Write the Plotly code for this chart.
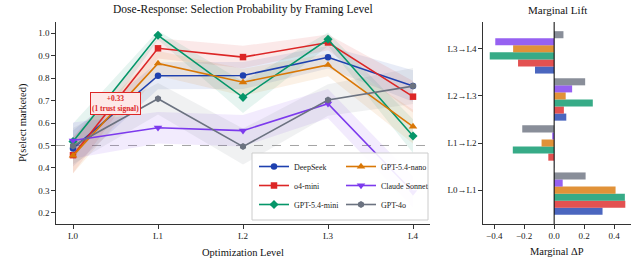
import plotly.graph_objects as go

# ---------------- data ----------------
levels = ["L0", "L1", "L2", "L3", "L4"]
transitions = ["L0→L1", "L1→L2", "L2→L3", "L3→L4"]
models = ["DeepSeek", "o4-mini", "GPT-5.4-mini", "GPT-5.4-nano", "Claude Sonnet", "GPT-4o"]

p_deepseek = [0.487, 0.810, 0.811, 0.892, 0.764]
p_o4mini = [0.457, 0.932, 0.893, 0.958, 0.717]
p_gpt54mini = [0.518, 0.990, 0.714, 0.972, 0.542]
p_gpt54nano = [0.455, 0.865, 0.781, 0.858, 0.584]
p_claude = [0.522, 0.579, 0.566, 0.686, 0.293]
p_gpt4o = [0.498, 0.708, 0.495, 0.702, 0.764]

ci_deepseek = [0.080, 0.060, 0.060, 0.050, 0.070]
ci_o4mini = [0.080, 0.045, 0.050, 0.035, 0.070]
ci_gpt54mini = [0.080, 0.020, 0.070, 0.030, 0.075]
ci_gpt54nano = [0.080, 0.055, 0.060, 0.050, 0.075]
ci_claude = [0.080, 0.070, 0.070, 0.065, 0.070]
ci_gpt4o = [0.080, 0.070, 0.080, 0.070, 0.080]

y_ticks = [0.2, 0.3, 0.4, 0.5, 0.6, 0.7, 0.8, 0.9, 1.0]
y_ticklabels = ["0.2", "0.3", "0.4", "0.5", "0.6", "0.7", "0.8", "0.9", "1.0"]
dx_ticks = [-0.4, -0.2, 0.0, 0.2, 0.4]
dx_ticklabels = ["−0.4", "−0.2", "0.0", "0.2", "0.4"]
chance_level = 0.5
note_text = "<b>+0.33<br>(1 trust signal)</b>"

series = [p_deepseek, p_o4mini, p_gpt54mini, p_gpt54nano, p_claude, p_gpt4o]
cis = [ci_deepseek, ci_o4mini, ci_gpt54mini, ci_gpt54nano, ci_claude, ci_gpt4o]

# ---------------- styles ----------------
colors = ["#1E40AF", "#DC2626", "#059669", "#D97706", "#7C3AED", "#6B7280"]
symbols = ["circle", "square", "diamond", "triangle-up", "triangle-down", "hexagon"]
msizes = [6.5, 6.5, 7, 7.5, 7.5, 7]
FONT = "Liberation Serif, Times New Roman, serif"
AX = "#333333"


def rgba(hex_color, a):
    h = hex_color.lstrip("#")
    return "rgba(%d,%d,%d,%.3f)" % (int(h[0:2], 16), int(h[2:4], 16), int(h[4:6], 16), a)


W, H = 632, 262
L_X0, L_X1 = 56, 430
R_X0, R_X1 = 483, 631
Y_TOP, Y_BOT = 22, 224

fig = go.Figure()
xi = list(range(len(levels)))

# confidence bands
for k, m in enumerate(models):
    hi = [p + c for p, c in zip(series[k], cis[k])]
    lo = [p - c for p, c in zip(series[k], cis[k])]
    fig.add_trace(go.Scatter(
        x=xi + xi[::-1], y=hi + lo[::-1], fill="toself",
        fillcolor=rgba(colors[k], 0.10), line=dict(width=0),
        mode="lines", showlegend=False, hoverinfo="skip",
        xaxis="x", yaxis="y"))

# lines
for k, m in enumerate(models):
    fig.add_trace(go.Scatter(
        x=xi, y=series[k], mode="lines+markers", name=m,
        line=dict(color=colors[k], width=1.6),
        marker=dict(symbol=symbols[k], size=msizes[k], color=colors[k], line=dict(width=0)),
        legend="legend" if k < 3 else "legend2",
        xaxis="x", yaxis="y"))

# marginal lift bars
bar_h = 0.15
for k, m in enumerate(models):
    d = [series[k][i + 1] - series[k][i] for i in range(len(levels) - 1)]
    ypos = [i + (k - 3) * bar_h for i in range(len(transitions))]
    fig.add_trace(go.Bar(
        x=d, y=ypos, orientation="h", width=bar_h,
        marker=dict(color=rgba(colors[k], 0.8), line=dict(width=0)),
        showlegend=False, name=m, xaxis="x2", yaxis="y2",
        offset=-bar_h / 2))

ydom = [1 - Y_BOT / H, 1 - Y_TOP / H]
common_tick = dict(ticks="outside", ticklen=3.5, tickwidth=1, tickcolor=AX,
                   showline=True, linecolor=AX, linewidth=1.2, showgrid=False,
                   zeroline=False, tickfont=dict(size=9, color="#222", family=FONT))

fig.update_layout(
    width=W, height=H, margin=dict(l=0, r=0, t=0, b=0),
    paper_bgcolor="white", plot_bgcolor="white",
    font=dict(family=FONT, size=9, color="#222"),
    barmode="overlay",
    xaxis=dict(domain=[L_X0 / W, L_X1 / W], range=[-0.2, 4.2],
               tickvals=xi, ticktext=levels, anchor="y", **common_tick),
    yaxis=dict(domain=ydom, range=[0.151, 1.049], tickvals=y_ticks,
               ticktext=y_ticklabels, anchor="x", **common_tick),
    xaxis2=dict(domain=[R_X0 / W, R_X1 / W], range=[-0.475, 0.513],
                tickvals=dx_ticks, ticktext=dx_ticklabels, anchor="y2", **common_tick),
    yaxis2=dict(domain=ydom, range=[-0.72, 3.57], tickvals=list(range(len(transitions))),
                ticktext=transitions, anchor="x2", **common_tick),
    legend=dict(x=254 / W, y=1 - 219 / H, xanchor="left", yanchor="bottom",
                bgcolor="rgba(0,0,0,0)", borderwidth=0,
                font=dict(size=8, family=FONT, color="#222")),
    legend2=dict(x=341 / W, y=1 - 219 / H, xanchor="left", yanchor="bottom",
                 bgcolor="rgba(0,0,0,0)", borderwidth=0,
                 font=dict(size=8, family=FONT, color="#222")),
)

shapes = [
    dict(type="line", xref="x domain", yref="y", x0=0, x1=1, y0=chance_level, y1=chance_level,
         line=dict(color="#9a9a9a", width=0.9, dash="dash"), layer="below"),
    dict(type="line", xref="x2", yref="y2 domain", x0=0, x1=0, y0=0, y1=1,
         line=dict(color="black", width=1), layer="above"),
    dict(type="rect", xref="paper", yref="paper", x0=252 / W, x1=428 / W,
         y0=1 - 220 / H, y1=1 - 153 / H, fillcolor="rgba(255,255,255,0.9)",
         line=dict(color="#cccccc", width=1), layer="above"),
]
fig.update_layout(shapes=shapes)

ann = [
    dict(text="Dose-Response: Selection Probability by Framing Level", xref="paper", yref="paper",
         x=(L_X0 + L_X1) / 2 / W, y=1 - 10 / H, showarrow=False, xanchor="center", yanchor="middle",
         font=dict(size=11.5, family=FONT, color="#111")),
    dict(text="Marginal Lift", xref="paper", yref="paper",
         x=(R_X0 + R_X1) / 2 / W, y=1 - 10 / H, showarrow=False, xanchor="center", yanchor="middle",
         font=dict(size=11, family=FONT, color="#111")),
    dict(text="Optimization Level", xref="paper", yref="paper",
         x=(L_X0 + L_X1) / 2 / W, y=1 - 252 / H, showarrow=False, xanchor="center", yanchor="middle",
         font=dict(size=10.5, family=FONT, color="#111")),
    dict(text="Marginal ΔP", xref="paper", yref="paper",
         x=(R_X0 + R_X1) / 2 / W, y=1 - 251 / H, showarrow=False, xanchor="center", yanchor="middle",
         font=dict(size=10.5, family=FONT, color="#111")),
    dict(text="P(select marketed)", xref="paper", yref="paper", textangle=-90,
         x=23 / W, y=1 - 123 / H, showarrow=False, xanchor="center", yanchor="middle",
         font=dict(size=10.5, family=FONT, color="#111")),
    dict(text=note_text, xref="x", yref="y", x=0.5, y=0.685, showarrow=False,
         xanchor="center", yanchor="middle", align="center",
         font=dict(size=7.5, family=FONT, color="#DC2626"),
         bgcolor="#FDE8E8", bordercolor="#DC2626", borderwidth=1, borderpad=1),
]
fig.update_layout(annotations=ann)

fig.write_html("out.html",
               config={"displayModeBar": False},
               post_script="document.body.style.margin='0';document.body.style.padding='0';"
                           "document.body.style.overflow='hidden';")
